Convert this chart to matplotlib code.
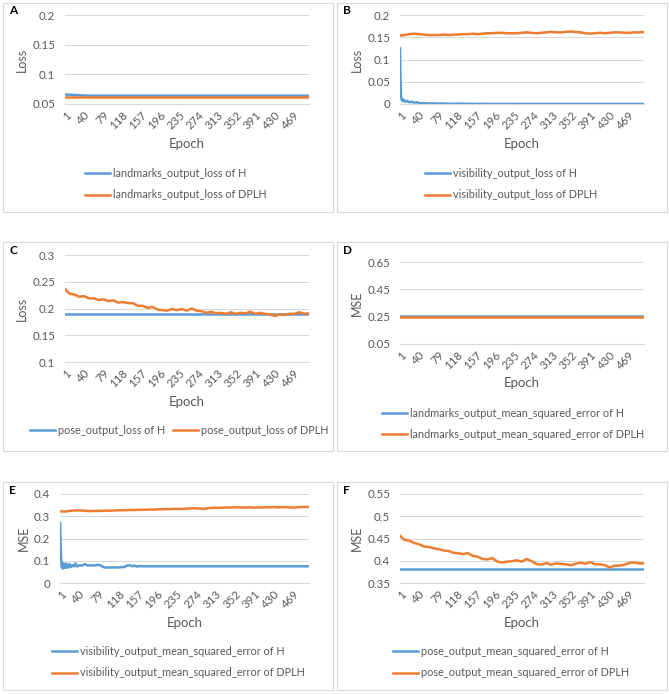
import matplotlib

matplotlib.use("Agg")
import matplotlib.pyplot as plt
from matplotlib.patches import Rectangle

plt.rcParams["font.family"] = ["Lato", "DejaVu Sans"]

# --- data ---
EPOCH_TICKS = [1, 40, 79, 118, 157, 196, 235, 274, 313, 352, 391, 430, 469]
EPOCHS_10 = [1] + list(range(10, 501, 10))
EPOCHS_FLAT = [1] + list(range(50, 501, 50))

A_H = [0.066, 0.064, 0.064, 0.064, 0.064, 0.064, 0.064, 0.064, 0.064, 0.064, 0.064]
A_DPLH = [0.062, 0.062, 0.062, 0.062, 0.062, 0.062, 0.062, 0.062, 0.062, 0.062, 0.062]

B_H_EPOCHS = [1, 2, 3, 4, 5, 6, 8, 10, 13, 16, 20, 25, 30, 35, 40, 50, 60, 70, 80,
              90, 100, 120, 140, 160, 200, 300, 400, 500]
B_H = [0.125, 0.060, 0.020, 0.012, 0.008, 0.011, 0.006, 0.009, 0.005, 0.007,
       0.004, 0.005, 0.003, 0.004, 0.002, 0.002, 0.001, 0.0015, 0.001, 0.0012,
       0.0005, 0.0008, 0.0005, 0.0003, 0.0002, 0.0001, 0.0001, 0.0001]
B_DPLH = [0.154, 0.155, 0.157, 0.158, 0.157, 0.156, 0.155, 0.155, 0.155, 0.156,
          0.155, 0.156, 0.156, 0.157, 0.157, 0.158, 0.157, 0.158, 0.159, 0.159,
          0.160, 0.160, 0.159, 0.159, 0.159, 0.160, 0.161, 0.160, 0.159, 0.160,
          0.161, 0.162, 0.161, 0.161, 0.162, 0.163, 0.162, 0.161, 0.159, 0.158,
          0.159, 0.160, 0.159, 0.160, 0.161, 0.161, 0.160, 0.160, 0.161, 0.161,
          0.162]

C_H = [0.189, 0.189, 0.189, 0.189, 0.189, 0.189, 0.189, 0.189, 0.189, 0.189, 0.189]
C_DPLH = [0.236, 0.228, 0.226, 0.222, 0.223, 0.219, 0.219, 0.216, 0.217, 0.214,
          0.215, 0.211, 0.212, 0.210, 0.210, 0.205, 0.205, 0.201, 0.203, 0.198,
          0.197, 0.196, 0.199, 0.197, 0.199, 0.196, 0.200, 0.196, 0.195, 0.192,
          0.194, 0.191, 0.192, 0.190, 0.193, 0.190, 0.192, 0.191, 0.194, 0.190,
          0.192, 0.190, 0.189, 0.186, 0.189, 0.188, 0.190, 0.190, 0.193, 0.190,
          0.191]

D_H = [0.258, 0.258, 0.258, 0.258, 0.258, 0.258, 0.258, 0.258, 0.258, 0.258, 0.258]
D_DPLH = [0.245, 0.245, 0.245, 0.245, 0.245, 0.245, 0.245, 0.245, 0.245, 0.245, 0.245]

E_H_EPOCHS = [1, 2, 3, 4, 5, 6, 7, 8, 10, 12, 14, 16, 18, 20, 23, 26, 29, 32, 35,
              40, 45, 50, 55, 60, 65, 70, 75, 80, 85, 90, 95, 100, 110, 120, 125,
              130, 135, 140, 145, 150, 155, 160, 170, 180, 200, 300, 400, 500]
E_H = [0.270, 0.200, 0.120, 0.085, 0.070, 0.090, 0.065, 0.085, 0.070, 0.088,
       0.068, 0.082, 0.070, 0.086, 0.072, 0.080, 0.075, 0.088, 0.074, 0.080,
       0.078, 0.085, 0.080, 0.079, 0.080, 0.078, 0.082, 0.081, 0.075, 0.070,
       0.069, 0.070, 0.070, 0.070, 0.071, 0.072, 0.078, 0.080, 0.075, 0.078,
       0.074, 0.076, 0.075, 0.075, 0.075, 0.075, 0.075, 0.075]
E_DPLH = [0.322, 0.321, 0.324, 0.326, 0.326, 0.325, 0.323, 0.324, 0.324, 0.325,
          0.325, 0.326, 0.327, 0.327, 0.328, 0.328, 0.329, 0.329, 0.330, 0.330,
          0.331, 0.332, 0.332, 0.333, 0.333, 0.333, 0.335, 0.336, 0.335, 0.333,
          0.337, 0.338, 0.338, 0.339, 0.339, 0.340, 0.340, 0.339, 0.340, 0.339,
          0.340, 0.340, 0.340, 0.341, 0.340, 0.341, 0.340, 0.339, 0.341, 0.342,
          0.342]

F_H = [0.382, 0.382, 0.382, 0.382, 0.382, 0.382, 0.382, 0.382, 0.382, 0.382, 0.382]
F_DPLH = [0.456, 0.447, 0.445, 0.440, 0.437, 0.432, 0.431, 0.428, 0.426, 0.423,
          0.422, 0.418, 0.417, 0.415, 0.417, 0.411, 0.409, 0.404, 0.403, 0.406,
          0.398, 0.396, 0.398, 0.399, 0.401, 0.398, 0.404, 0.399, 0.393, 0.391,
          0.395, 0.391, 0.394, 0.393, 0.392, 0.390, 0.393, 0.396, 0.393, 0.397,
          0.392, 0.392, 0.390, 0.385, 0.389, 0.389, 0.391, 0.395, 0.396, 0.394,
          0.394]

BLUE = "#5B9BD5"
ORANGE = "#ED7D31"
GREY_TXT = "#595959"
GRID = "#D9D9D9"

W, H = 669, 694
fig = plt.figure(figsize=(W / 100, H / 100), dpi=100)


def rect(x0, y0, x1, y1):
    return [x0 / W, 1 - y1 / H, (x1 - x0) / W, (y1 - y0) / H]


panels = [
    dict(letter="A", box=(3, 3, 333, 212), ax=(65, 15, 309, 104), ylabel="Loss",
         yticks=[0.05, 0.1, 0.15, 0.2], ylim=(0.05, 0.2),
         h=(EPOCHS_FLAT, A_H), d=(EPOCHS_FLAT, A_DPLH),
         hlab="landmarks_output_loss of H", dlab="landmarks_output_loss of DPLH",
         leg=(85, 168), ncol=1, epoch_y=144),
    dict(letter="B", box=(337, 3, 667, 212), ax=(400, 15, 644, 104), ylabel="Loss",
         yticks=[0, 0.05, 0.1, 0.15, 0.2], ylim=(0, 0.2),
         h=(B_H_EPOCHS, B_H), d=(EPOCHS_10, B_DPLH),
         hlab="visibility_output_loss of H", dlab="visibility_output_loss of DPLH",
         leg=(425, 168), ncol=1, epoch_y=144),
    dict(letter="C", box=(3, 242, 333, 451), ax=(65, 255, 309, 362), ylabel="Loss",
         yticks=[0.1, 0.15, 0.2, 0.25, 0.3], ylim=(0.1, 0.3),
         h=(EPOCHS_FLAT, C_H), d=(EPOCHS_10, C_DPLH),
         hlab="pose_output_loss of H", dlab="pose_output_loss of DPLH",
         leg=(30, 425), ncol=2, epoch_y=402),
    dict(letter="D", box=(337, 242, 667, 451), ax=(400, 262, 644, 344), ylabel="MSE",
         yticks=[0.05, 0.25, 0.45, 0.65], ylim=(0.05, 0.65),
         h=(EPOCHS_FLAT, D_H), d=(EPOCHS_FLAT, D_DPLH),
         hlab="landmarks_output_mean_squared_error of H",
         dlab="landmarks_output_mean_squared_error of DPLH",
         leg=(382, 408), ncol=1, epoch_y=383),
    dict(letter="E", box=(3, 482, 333, 690), ax=(60, 494, 309, 583), ylabel="MSE",
         yticks=[0, 0.1, 0.2, 0.3, 0.4], ylim=(0, 0.4),
         h=(E_H_EPOCHS, E_H), d=(EPOCHS_10, E_DPLH),
         hlab="visibility_output_mean_squared_error of H",
         dlab="visibility_output_mean_squared_error of DPLH",
         leg=(52, 646), ncol=1, epoch_y=623),
    dict(letter="F", box=(337, 482, 667, 690), ax=(400, 494, 644, 583), ylabel="MSE",
         yticks=[0.35, 0.4, 0.45, 0.5, 0.55], ylim=(0.35, 0.55),
         h=(EPOCHS_FLAT, F_H), d=(EPOCHS_10, F_DPLH),
         hlab="pose_output_mean_squared_error of H",
         dlab="pose_output_mean_squared_error of DPLH",
         leg=(393, 646), ncol=1, epoch_y=623),
]

for p in panels:
    bx0, by0, bx1, by1 = p["box"]
    fig.patches.append(Rectangle((bx0 / W, 1 - by1 / H), (bx1 - bx0) / W, (by1 - by0) / H,
                                 transform=fig.transFigure, fill=False,
                                 edgecolor=GRID, linewidth=0.8))
    fig.text((bx0 + 6) / W, 1 - (by0 + 8) / H, p["letter"], fontsize=8.5,
             fontweight="bold", color="black", va="center", ha="left")

    ax = fig.add_axes(rect(*p["ax"]))
    ax.plot(*p["h"], color=BLUE, lw=1.8, label=p["hlab"])
    ax.plot(*p["d"], color=ORANGE, lw=1.8, label=p["dlab"])
    ax.set_xlim(1, 500)
    ax.set_ylim(*p["ylim"])
    ax.set_yticks(p["yticks"])
    ax.set_yticklabels([f"{v:g}" for v in p["yticks"]])
    ax.set_xticks(EPOCH_TICKS)
    ax.set_xticklabels([str(t) for t in EPOCH_TICKS], rotation=45, ha="right",
                       rotation_mode="anchor")
    ax.tick_params(length=0, labelsize=8.3, labelcolor=GREY_TXT)
    ax.tick_params(axis="y", pad=7)
    ax.tick_params(axis="x", pad=4)
    ax.grid(axis="y", color=GRID, lw=0.75)
    ax.set_axisbelow(True)
    for s in ["top", "right", "left"]:
        ax.spines[s].set_visible(False)
    ax.spines["bottom"].set_color(GRID)
    ax.spines["bottom"].set_linewidth(0.75)
    ax.set_ylabel(p["ylabel"], fontsize=9, color=GREY_TXT, labelpad=3)

    ax0, ay0, ax1, ay1 = p["ax"]
    fig.text((ax0 + ax1) / 2 / W, 1 - p["epoch_y"] / H, "Epoch", fontsize=9.5,
             color=GREY_TXT, ha="center", va="center")

    lx, ly = p["leg"]
    ax.legend(loc="upper left", bbox_to_anchor=(lx / W, 1 - ly / H),
              bbox_transform=fig.transFigure, ncol=p["ncol"], frameon=False,
              fontsize=7.8, labelcolor=GREY_TXT, handlelength=2.3,
              handletextpad=0.3, borderpad=0, borderaxespad=0,
              labelspacing=0.95, columnspacing=0.7)

fig.savefig("out.png", dpi=100)
